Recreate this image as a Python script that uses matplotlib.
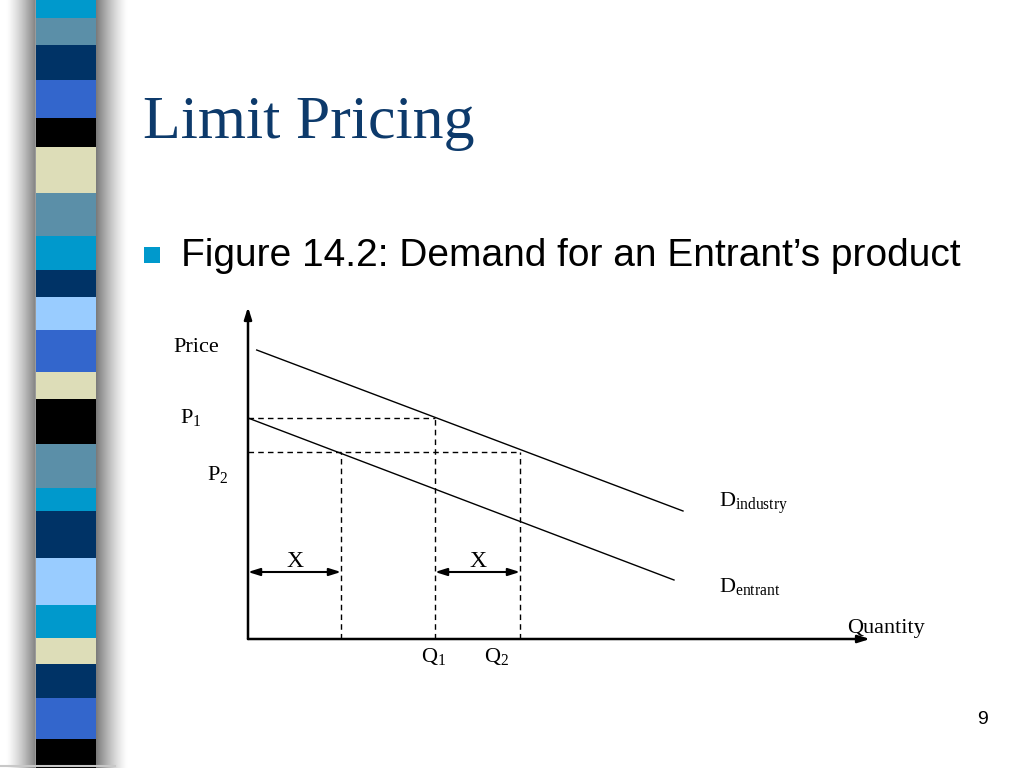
import matplotlib
matplotlib.use("Agg")
import matplotlib.pyplot as plt
import numpy as np

plt.rcParams['font.family'] = ['Liberation Serif', 'DejaVu Serif']
plt.rcParams['mathtext.fontset'] = 'custom'
plt.rcParams['mathtext.rm'] = 'Liberation Serif'
plt.rcParams['mathtext.it'] = 'Liberation Serif:italic'

# --- diagram data (quantity / price units) ---
industry_q = [0.87, 43.5]
industry_p = [28.9, 12.8]
entrant_q = [0.0, 42.6]
entrant_p = [22.1, 5.9]
p1, p2 = 22.1, 18.7
q_entrant_p2 = 9.3     # entrant's demand at P2
q1, q2 = 18.7, 27.2
arrow_level = 6.7
q_max, p_max = 62.2, 33.2

# --- left decorative stripe (pixel rows, top to bottom) ---
stripe_edges = [0, 18, 45, 80, 118, 147, 193, 236, 270, 297, 330, 372,
                399, 444, 488, 511, 558, 605, 638, 664, 698, 739, 768]
stripe_colors = ['#0099CC', '#5B8FA8', '#003366', '#3366CC', '#000000', '#DDDDB8',
                 '#5B8FA8', '#0099CC', '#003366', '#99CCFF', '#3366CC', '#DDDDB8',
                 '#000000', '#5B8FA8', '#0099CC', '#003366', '#99CCFF', '#0099CC',
                 '#DDDDB8', '#003366', '#3366CC', '#000000']

fig = plt.figure(figsize=(10.24, 7.68), dpi=100)

# background / slide layer in pixel coordinates
bg = fig.add_axes([0, 0, 1, 1])
bg.set_xlim(0, 1024)
bg.set_ylim(768, 0)
bg.axis('off')

# soft grey shadow around the stripe
xs = np.linspace(0, 130, 261)
shade = np.ones_like(xs)
left = (xs > 6) & (xs < 36)
shade[left] = 1 - 0.5 * ((xs[left] - 6) / 30) ** 1.3
right = (xs >= 95) & (xs < 128)
shade[right] = 1 - 0.55 * (1 - (xs[right] - 95) / 33) ** 1.3
bg.imshow(np.tile(shade, (2, 1)), cmap='gray', vmin=0, vmax=1, aspect='auto',
          extent=[0, 130, 768, 0], interpolation='bilinear', zorder=0)

for i, c in enumerate(stripe_colors):
    top, bottom = stripe_edges[i], stripe_edges[i + 1]
    bg.fill_between([36, 96], top, bottom, color=c, lw=0, zorder=1)
bg.plot([0, 115], [766, 766], color='#C8C8C8', lw=1.5, zorder=2)

bg.text(143, 138, 'Limit Pricing', fontsize=44.6, color='#0D3A6B',
        family='Liberation Serif', va='baseline', ha='left')
bg.fill_between([144, 160], 247, 263, color='#0099CC', lw=0)
bg.text(181, 266, 'Figure 14.2: Demand for an Entrant\u2019s product', fontsize=28,
        family='Liberation Sans', color='black', va='baseline', ha='left')
bg.text(982, 724, '9', fontsize=14, family='Liberation Sans', ha='center', va='baseline')

# diagram axes, origin at the pixel (248, 639)
ax = fig.add_axes([248 / 1024, (768 - 639) / 768, 622 / 1024, 332 / 768])
ax.set_xlim(0, q_max)
ax.set_ylim(0, p_max)
ax.axis('off')
ax.patch.set_alpha(0)

axis_kw = dict(arrowstyle='-|>,head_length=0.7,head_width=0.22', color='black', lw=1.8,
               shrinkA=0, shrinkB=0)
ax.annotate('', xy=(q_max, 0), xytext=(0, 0), arrowprops=axis_kw, annotation_clip=False)
ax.annotate('', xy=(0, p_max), xytext=(0, 0), arrowprops=axis_kw, annotation_clip=False)

ax.plot(industry_q, industry_p, color='black', lw=1.0)
ax.plot(entrant_q, entrant_p, color='black', lw=1.0)

dash = dict(color='black', lw=1.0, linestyle=(0, (4, 3)))
ax.plot([0, q1], [p1, p1], **dash)
ax.plot([q1, q1], [0, p1], **dash)
ax.plot([0, q2], [p2, p2], **dash)
ax.plot([q_entrant_p2, q_entrant_p2], [0, p2], **dash)
ax.plot([q2, q2], [0, p2], **dash)

dbl = dict(arrowstyle='<|-|>,head_length=0.7,head_width=0.22', color='black', lw=1.5,
           shrinkA=0, shrinkB=0)
ax.annotate('', xy=(q_entrant_p2, arrow_level), xytext=(0, arrow_level), arrowprops=dbl)
ax.annotate('', xy=(q2, arrow_level), xytext=(q1, arrow_level), arrowprops=dbl)

fs = 16
ax.text(q_entrant_p2 / 2, 7.23, 'X', fontsize=17, ha='center', va='baseline')
ax.text((q1 + q2) / 2, 7.23, 'X', fontsize=17, ha='center', va='baseline')
ax.text(-7.5, 28.7, 'Price', fontsize=fs, ha='left', va='baseline', clip_on=False)
ax.text(-6.8, 21.6, r'P$_{\mathrm{1}}$', fontsize=fs, ha='left', va='baseline', clip_on=False)
ax.text(-4.1, 15.9, r'P$_{\mathrm{2}}$', fontsize=fs, ha='left', va='baseline', clip_on=False)
ax.text(17.3, -2.27, r'Q$_{\mathrm{1}}$', fontsize=fs, ha='left', va='baseline', clip_on=False)
ax.text(23.6, -2.27, r'Q$_{\mathrm{2}}$', fontsize=fs, ha='left', va='baseline', clip_on=False)
ax.text(47.1, 13.2, r'D$_{\mathrm{industry}}$', fontsize=fs, ha='left', va='baseline')
ax.text(47.1, 4.73, r'D$_{\mathrm{entrant}}$', fontsize=fs, ha='left', va='baseline')
ax.text(59.9, 0.6, 'Quantity', fontsize=fs, ha='left', va='baseline', clip_on=False)

fig.savefig('out.png', dpi=100)
